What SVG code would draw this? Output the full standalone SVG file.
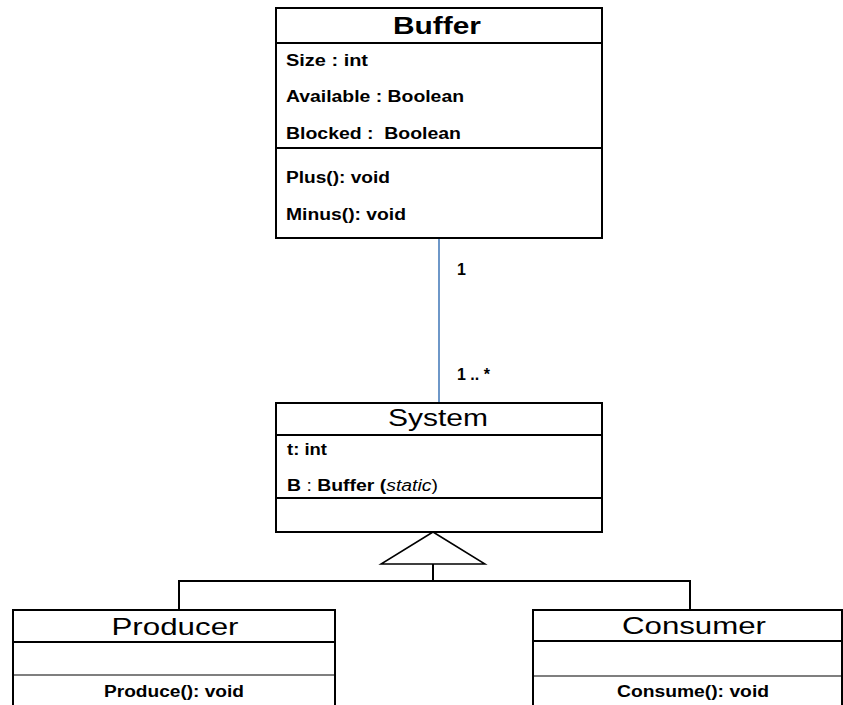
<svg xmlns="http://www.w3.org/2000/svg" width="843" height="705" viewBox="0 0 843 705">
<style>
.box{fill:#fff;stroke:#000;stroke-width:2}
.ln{stroke:#000;stroke-width:2;fill:none}
.thin{stroke:#000;stroke-width:1.2;fill:none}
.title{font-family:"Liberation Sans",Arial,sans-serif;font-size:24px;text-anchor:middle;fill:#000}
.attr{font-family:"Liberation Sans",Arial,sans-serif;font-size:16px;font-weight:bold;fill:#000;white-space:pre}
.op{font-family:"Liberation Sans",Arial,sans-serif;font-size:16px;font-weight:bold;fill:#000;text-anchor:middle}
.mult{font-family:"Liberation Sans",Arial,sans-serif;font-size:16px;font-weight:bold;fill:#000}
</style>
<rect width="843" height="705" fill="#fff"/>
<g id="connectors">
<line x1="439" y1="238" x2="439" y2="403" stroke="#4a7ebb" stroke-width="1.6"/>
<text class="mult" x="457" y="275">1</text>
<text class="mult" x="457" y="380">1 .. *</text>
<polygon points="433,532 381,564 485,564" fill="#fff" stroke="#000" stroke-width="1.5"/>
<line class="ln" x1="433" y1="564" x2="433" y2="581"/>
<polyline class="ln" points="179,610 179,581 690,581 690,610"/>
</g>
<g id="buffer">
<rect class="box" x="276" y="8" width="326" height="230"/>
<line class="ln" x1="276" y1="43" x2="602" y2="43"/>
<line class="ln" x1="276" y1="148" x2="602" y2="148"/>
<text class="title" x="437" y="34" font-weight="bold" textLength="88" lengthAdjust="spacingAndGlyphs">Buffer</text>
<text class="attr" x="286" y="66" textLength="82" lengthAdjust="spacingAndGlyphs">Size : int</text>
<text class="attr" x="286" y="102" textLength="178" lengthAdjust="spacingAndGlyphs">Available : Boolean</text>
<text class="attr" x="286" y="139" textLength="175" lengthAdjust="spacingAndGlyphs" xml:space="preserve">Blocked :  Boolean</text>
<text class="attr" x="286" y="183" textLength="104" lengthAdjust="spacingAndGlyphs">Plus(): void</text>
<text class="attr" x="286" y="220" textLength="120" lengthAdjust="spacingAndGlyphs">Minus(): void</text>
</g>
<g id="system">
<rect class="box" x="276" y="403" width="326" height="129"/>
<line class="ln" x1="276" y1="435" x2="602" y2="435"/>
<line class="ln" x1="276" y1="498" x2="602" y2="498"/>
<text class="title" x="438" y="426" textLength="100" lengthAdjust="spacingAndGlyphs">System</text>
<text class="attr" x="287" y="455" textLength="40" lengthAdjust="spacingAndGlyphs">t: int</text>
<text class="attr" x="287" y="491" textLength="151" lengthAdjust="spacingAndGlyphs">B <tspan font-weight="normal">:</tspan> Buffer (<tspan font-style="italic" font-weight="normal">static</tspan><tspan font-weight="normal">)</tspan></text>
</g>
<g id="producer">
<polyline class="ln" points="13,706 13,610 335,610 335,706"/>
<line class="ln" x1="13" y1="642" x2="335" y2="642"/>
<line class="thin" x1="13" y1="675" x2="335" y2="675"/>
<text class="title" x="175" y="635" textLength="127" lengthAdjust="spacingAndGlyphs">Producer</text>
<text class="op" x="174" y="697" textLength="140" lengthAdjust="spacingAndGlyphs">Produce(): void</text>
</g>
<g id="consumer">
<polyline class="ln" points="533,706 533,610 842,610 842,706"/>
<line class="ln" x1="533" y1="641" x2="843" y2="641"/>
<line class="thin" x1="533" y1="676" x2="843" y2="676"/>
<text class="title" x="694" y="634" textLength="144" lengthAdjust="spacingAndGlyphs">Consumer</text>
<text class="op" x="693" y="697" textLength="152" lengthAdjust="spacingAndGlyphs">Consume(): void</text>
</g>
</svg>
